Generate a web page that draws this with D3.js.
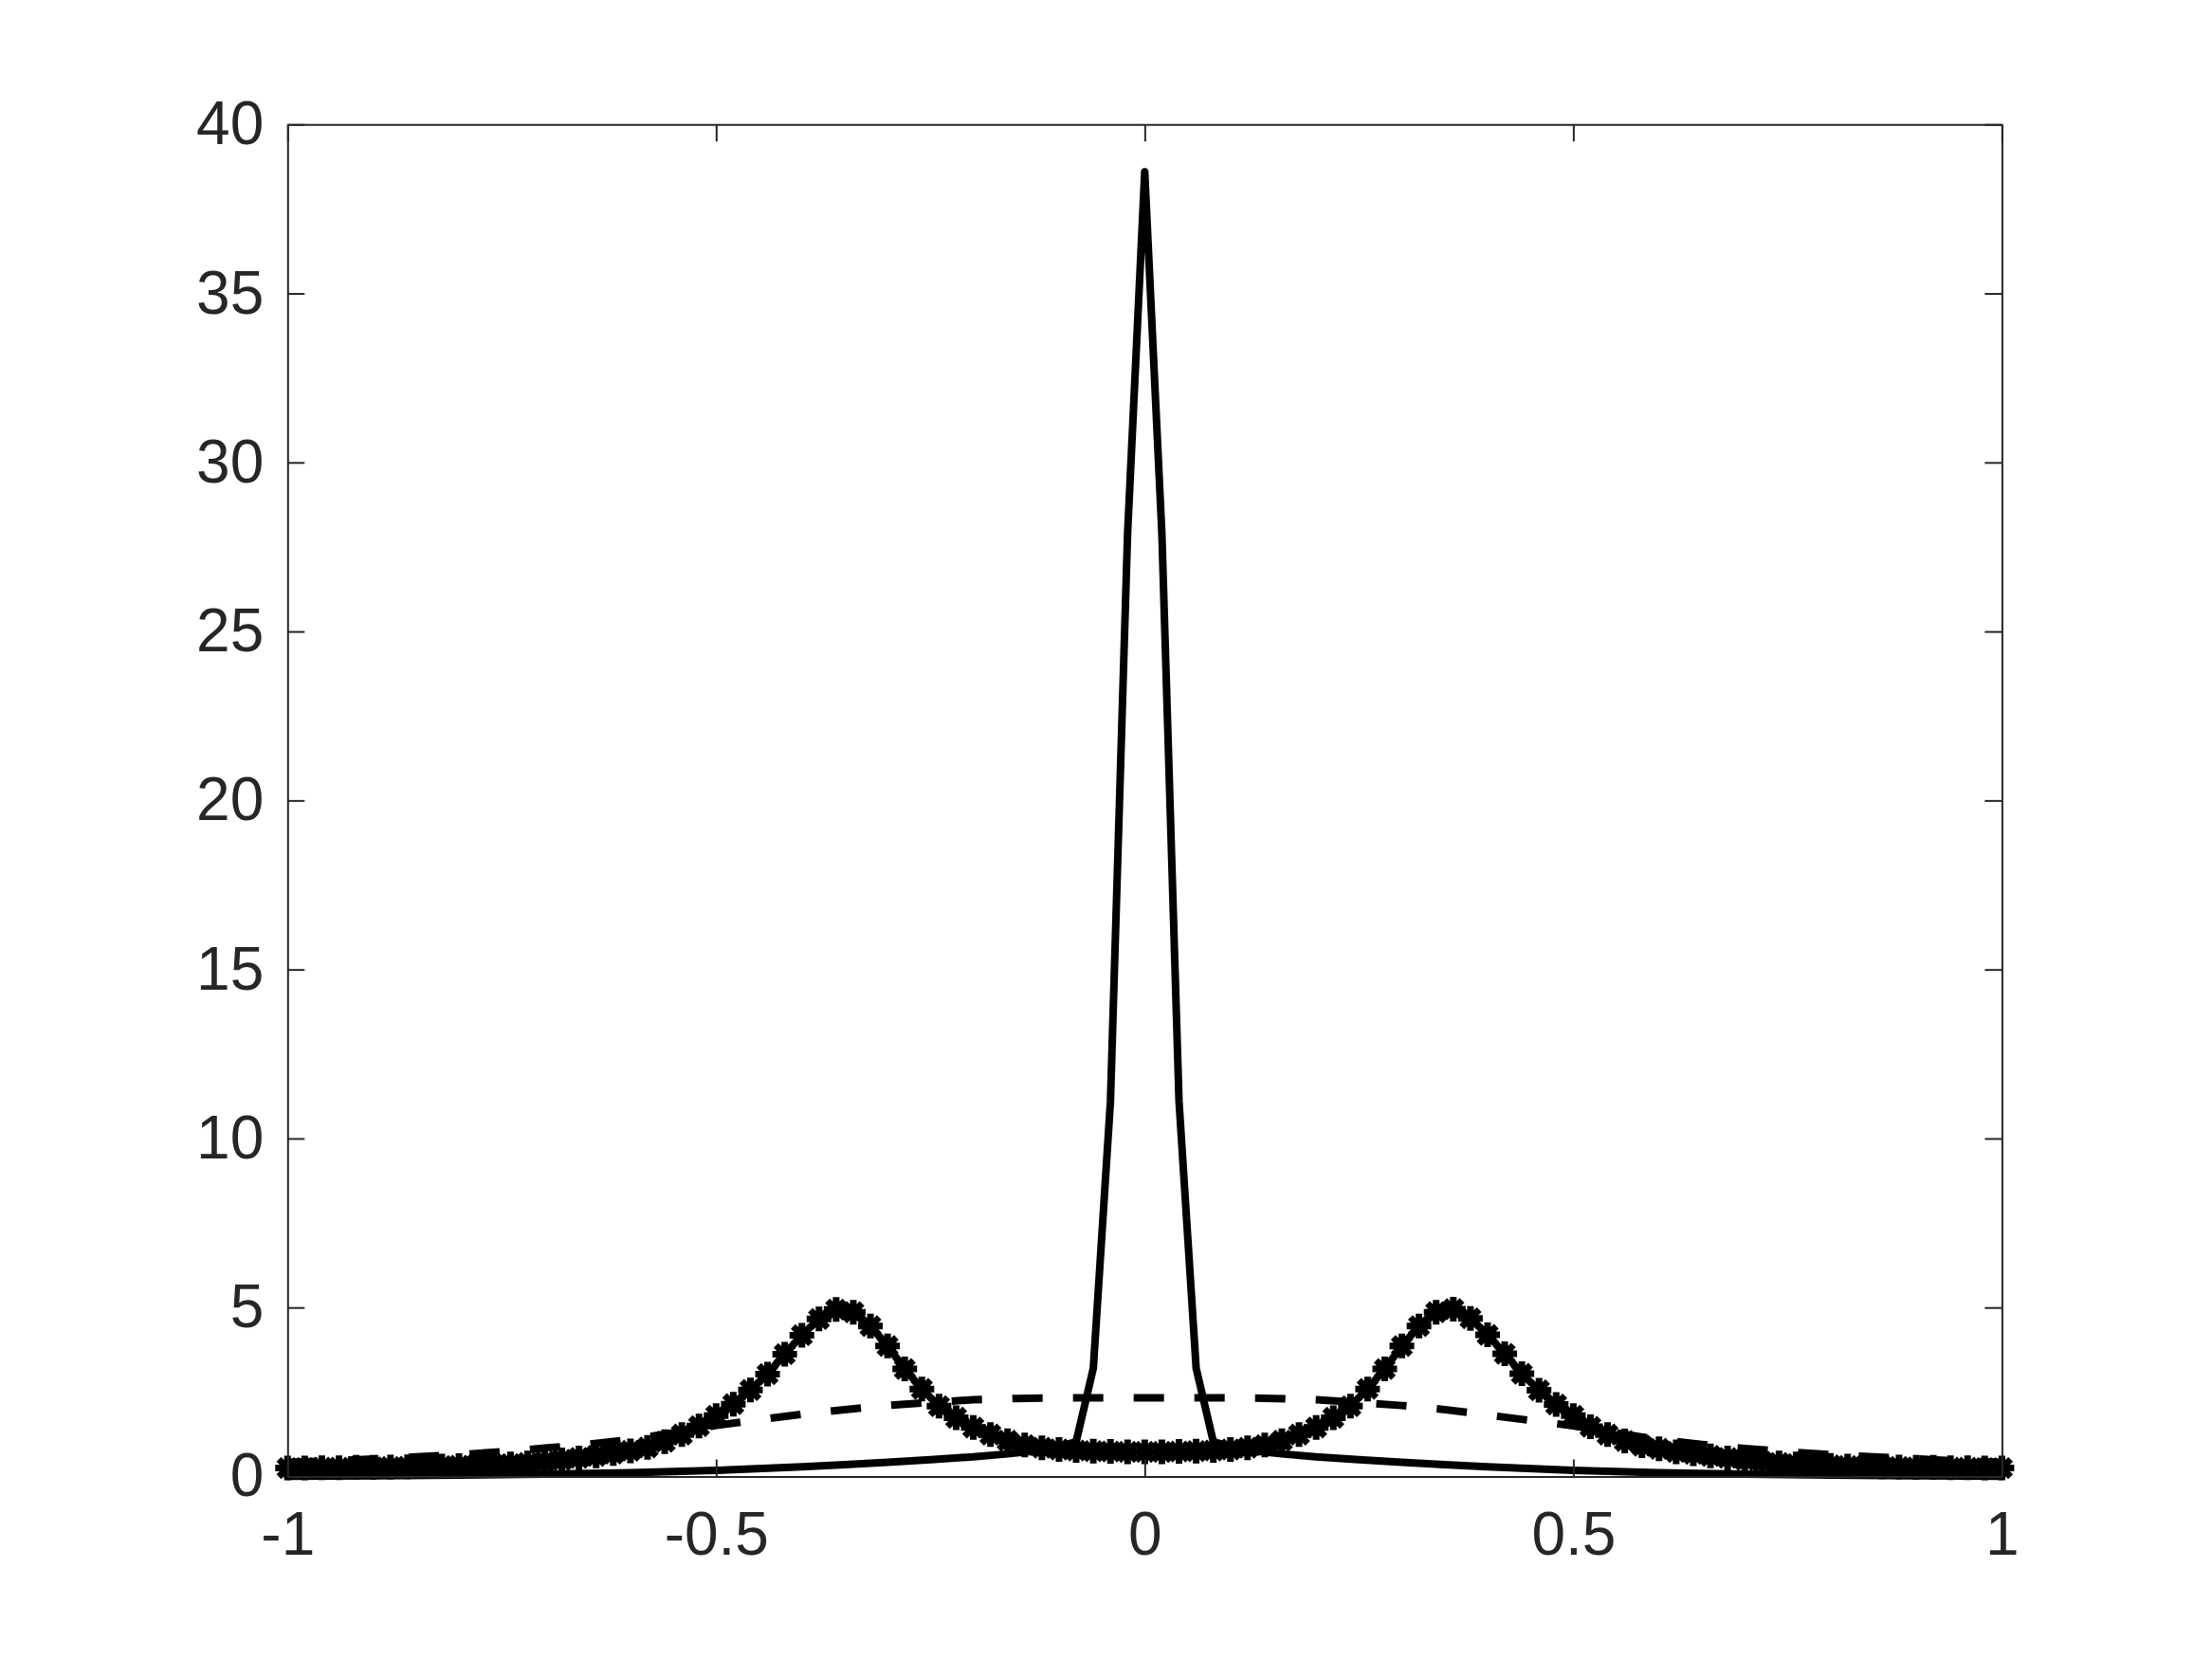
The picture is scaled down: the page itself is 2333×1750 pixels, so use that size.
<!DOCTYPE html>
<html>
<head>
<meta charset="utf-8">
<script src="https://cdn.jsdelivr.net/npm/d3@7"></script>
<style>
  body { margin: 0; background: #fff; }
  svg { display: block; background: #fff; }
</style>
</head>
<body>
<svg width="2333" height="1750"></svg>
<script>
let xTicks = [-1, -0.5, 0, 0.5, 1];
let yTicks = [0, 5, 10, 15, 20, 25, 30, 35, 40];

// star series, sampled every 0.02 from -1 to 1
let starStep = 0.02;
let starY = [
    0.25, 0.25, 0.26, 0.26, 0.27, 0.27, 0.28, 0.29, 0.30, 0.31,
    0.32, 0.33, 0.35, 0.37, 0.40, 0.44, 0.49, 0.55, 0.61, 0.68,
    0.76, 0.86, 1.03, 1.24, 1.49, 1.80, 2.14, 2.56, 3.03, 3.62,
    4.18, 4.66, 4.94, 4.86, 4.45, 3.86, 3.18, 2.59, 2.08, 1.74,
    1.45, 1.24, 1.06, 0.93, 0.85, 0.80, 0.77, 0.75, 0.74, 0.73,
    0.73,
    0.73, 0.74, 0.75, 0.77, 0.80, 0.85, 0.93, 1.06, 1.24, 1.45,
    1.74, 2.08, 2.59, 3.18, 3.86, 4.45, 4.86, 4.95, 4.68, 4.19,
    3.63, 3.04, 2.55, 2.13, 1.80, 1.47, 1.24, 1.05, 0.91, 0.82,
    0.73, 0.67, 0.61, 0.55, 0.49, 0.44, 0.40, 0.37, 0.35, 0.33,
    0.31, 0.30, 0.29, 0.28, 0.27, 0.27, 0.26, 0.26, 0.25, 0.25
];

// solid line: narrow spike + slow tails
let spikeX = [-1, -0.9, -0.8, -0.7, -0.6, -0.5, -0.4, -0.35, -0.3, -0.25, -0.2, -0.16, -0.12, -0.1, -0.08,
    -0.06, -0.04, -0.02, 0, 0.02, 0.04, 0.06,
    0.08, 0.1, 0.12, 0.16, 0.2, 0.25, 0.3, 0.35, 0.4, 0.5, 0.6, 0.7, 0.8, 0.9, 1];
let spikeY = [0.01, 0.02, 0.04, 0.07, 0.11, 0.18, 0.29, 0.35, 0.42, 0.50, 0.58, 0.67, 0.78, 0.88, 1.03,
    3.2, 11.1, 27.9, 38.6, 27.9, 11.1, 3.2,
    1.03, 0.88, 0.78, 0.67, 0.58, 0.50, 0.42, 0.35, 0.29, 0.18, 0.11, 0.07, 0.04, 0.02, 0.01];

// dashed line: broad flat bump
let dashX = [-1, -0.95, -0.9, -0.85, -0.8, -0.75, -0.7, -0.65, -0.6, -0.55, -0.5, -0.45, -0.4, -0.35, -0.3,
    -0.25, -0.2, -0.15, -0.1, -0.05, 0, 0.05, 0.1, 0.15, 0.2, 0.25, 0.3, 0.35, 0.4, 0.45, 0.5,
    0.55, 0.6, 0.65, 0.7, 0.75, 0.8, 0.85, 0.9, 0.95, 1];
let dashY = [0.42, 0.46, 0.52, 0.58, 0.65, 0.73, 0.84, 0.95, 1.09, 1.29, 1.51, 1.68, 1.84, 1.98, 2.10,
    2.19, 2.27, 2.31, 2.33, 2.33, 2.33, 2.33, 2.33, 2.31, 2.27, 2.19, 2.10, 1.98, 1.82, 1.66, 1.50,
    1.29, 1.09, 0.95, 0.83, 0.73, 0.65, 0.58, 0.52, 0.46, 0.42];

let svg = d3.select("svg");
let W = +svg.attr("width"), H = +svg.attr("height");
let margin = { left: 303.3, right: 221.6, up: 131.25, down: 192.5 };
let width = W - margin.left - margin.right;
let height = H - margin.up - margin.down;
let ink = "#262626";
let lw = 8;

let plot = svg.append("g")
    .attr("transform", "translate(" + margin.left + "," + margin.up + ")");

let xScale = d3.scaleLinear().domain([-1, 1]).range([0, width]);
let yScale = d3.scaleLinear().domain([0, 40]).range([height, 0]);

let line = d3.line()
    .x(d => xScale(d[0]))
    .y(d => yScale(d[1]));

// solid spike
plot.append("path")
    .datum(spikeX.map((x, i) => [x, spikeY[i]]))
    .attr("fill", "none")
    .attr("stroke", "#000")
    .attr("stroke-width", lw)
    .attr("stroke-linejoin", "round")
    .attr("stroke-linecap", "round")
    .attr("d", line);

// star series line + markers
let starData = starY.map((y, i) => [-1 + i * starStep, y]);
plot.append("path")
    .datum(starData)
    .attr("fill", "none")
    .attr("stroke", "#000")
    .attr("stroke-width", lw)
    .attr("d", line);

let r = 13, q = r * Math.SQRT1_2;
let starPath = "M" + (-r) + ",0L" + r + ",0M0," + (-r) + "L0," + r +
    "M" + (-q) + "," + (-q) + "L" + q + "," + q + "M" + (-q) + "," + q + "L" + q + "," + (-q);
plot.selectAll(".star")
    .data(starData)
    .enter().append("path")
    .attr("class", "star")
    .attr("transform", d => "translate(" + xScale(d[0]) + "," + yScale(d[1]) + ")")
    .attr("d", starPath)
    .attr("fill", "none")
    .attr("stroke", "#000")
    .attr("stroke-width", 7);

// dashed series
plot.append("path")
    .datum(dashX.map((x, i) => [x, dashY[i]]))
    .attr("fill", "none")
    .attr("stroke", "#000")
    .attr("stroke-width", lw)
    .attr("stroke-dasharray", "32,32")
    .attr("d", line);

// axes, ticks pointing inward on all four sides
let tick = 18;
function styleAxis(g) {
    g.select(".domain").attr("stroke", ink).attr("stroke-width", 2);
    g.selectAll(".tick line").attr("stroke", ink).attr("stroke-width", 2);
    g.selectAll(".tick text")
        .attr("fill", ink)
        .style("font-family", "'Liberation Sans', Arial, Helvetica, sans-serif")
        .style("font-size", "64px");
}

plot.append("g")
    .attr("transform", "translate(0," + height + ")")
    .call(d3.axisBottom(xScale).tickValues(xTicks).tickFormat(d3.format("")).tickSize(-tick).tickSizeOuter(0).tickPadding(37))
    .call(styleAxis);

plot.append("g")
    .call(d3.axisTop(xScale).tickValues(xTicks).tickFormat("").tickSize(-tick).tickSizeOuter(0))
    .call(styleAxis);

plot.append("g")
    .call(d3.axisLeft(yScale).tickValues(yTicks).tickSize(-tick).tickSizeOuter(0).tickPadding(25))
    .call(styleAxis);

plot.append("g")
    .attr("transform", "translate(" + width + ",0)")
    .call(d3.axisRight(yScale).tickValues(yTicks).tickFormat("").tickSize(-tick).tickSizeOuter(0))
    .call(styleAxis);

// hyphen minus like the original
plot.selectAll(".tick text").text(function () { return this.textContent.replace("\u2212", "-"); });
</script>
</body>
</html>
